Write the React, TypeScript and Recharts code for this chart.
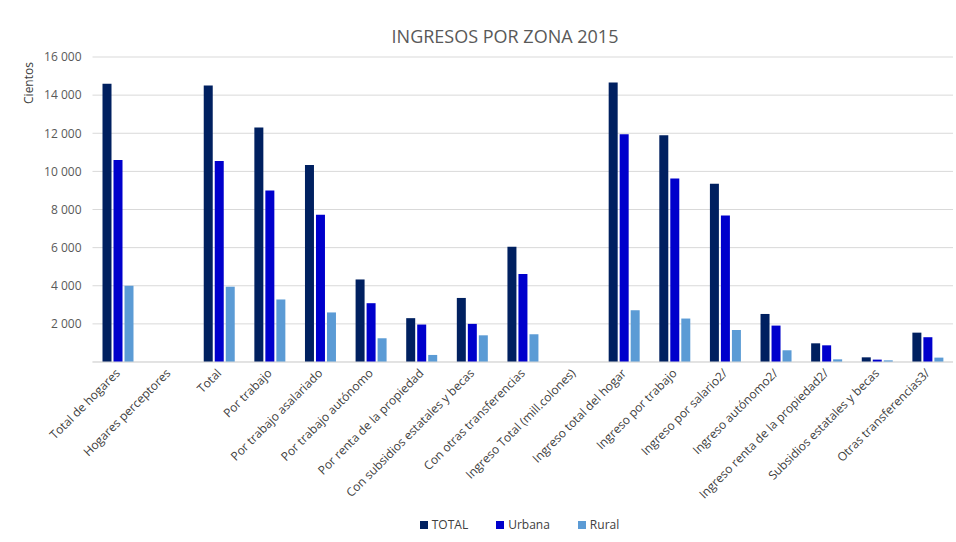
import React from 'react';
import { BarChart, Bar, XAxis, YAxis, CartesianGrid, Legend } from 'recharts';

const categories = [
  'Total de hogares',
  'Hogares perceptores',
  'Total',
  'Por trabajo',
  'Por trabajo asalariado',
  'Por trabajo autónomo',
  'Por renta de la propiedad',
  'Con subsidios estatales y becas',
  'Con otras transferencias',
  'Ingreso Total (mill.colones)',
  'Ingreso total del hogar',
  'Ingreso por trabajo',
  'Ingreso por salario2/',
  'Ingreso autónomo2/',
  'Ingreso renta de la propiedad2/',
  'Subsidios estatales y becas',
  'Otras transferencias3/',
];

const totalValues = [14600, null, 14500, 12300, 10330, 4330, 2300, 3360, 6040, null, 14660, 11900, 9350, 2520, 980, 245, 1540];
const urbanaValues = [10600, null, 10550, 9000, 7725, 3085, 1965, 2000, 4610, null, 11950, 9620, 7690, 1910, 875, 125, 1300];
const ruralValues = [4000, null, 3950, 3280, 2600, 1245, 370, 1400, 1455, null, 2715, 2280, 1680, 615, 140, 87, 230];

const yTicks = [0, 2000, 4000, 6000, 8000, 10000, 12000, 14000, 16000];

const seriesNames = ['TOTAL', 'Urbana', 'Rural'];
const seriesColors = ['#002060', '#0000CC', '#5B9BD5'];

const data = categories.map((c, i) => ({
  name: c,
  TOTAL: totalValues[i],
  Urbana: urbanaValues[i],
  Rural: ruralValues[i],
}));

const FONT = '"Open Sans", sans-serif';

const fmt = (v: number) => (v === 0 ? '' : v.toLocaleString('en-US').replace(/,/g, ' '));

const XTick = (props: any) => {
  const { x, y, payload } = props;
  const tx = x + 3;
  const ty = y + 4;
  return (
    <text
      x={tx}
      y={ty}
      transform={`rotate(-45, ${tx}, ${ty})`}
      textAnchor="end"
      fill="#404040"
      fontSize={12}
      fontFamily={FONT}
    >
      {payload.value}
    </text>
  );
};

const LegendContent = () => (
  <div
    style={{
      display: 'flex',
      justifyContent: 'center',
      fontFamily: FONT,
      fontSize: 12,
      color: '#404040',
      paddingLeft: 86,
      paddingTop: 9,
    }}
  >
    {seriesNames.map((n, i) => (
      <div key={n} style={{ display: 'flex', alignItems: 'center', marginRight: i < 2 ? 28 : 0 }}>
        <span style={{ width: 8, height: 8, background: seriesColors[i], display: 'inline-block', marginRight: 4 }} />
        <span>{n}</span>
      </div>
    ))}
  </div>
);

export default function App() {
  return (
    <div style={{ position: 'absolute', left: 0, top: 0, width: 956, height: 542, background: '#fff' }}>
      <div
        style={{
          position: 'absolute',
          left: 0,
          width: 1010,
          top: 24,
          textAlign: 'center',
          fontFamily: FONT,
          fontSize: 18,
          color: '#595959',
        }}
      >
        INGRESOS POR ZONA 2015
      </div>
      <BarChart
        width={956}
        height={542}
        data={data}
        margin={{ top: 57, right: 3, bottom: 0, left: 0 }}
        barSize={9}
        barGap={2}
      >
        <CartesianGrid vertical={false} stroke="#d9d9d9" />
        <XAxis
          dataKey="name"
          interval={0}
          tick={<XTick />}
          tickLine={false}
          axisLine={{ stroke: '#d9d9d9' }}
          height={145}
        />
        <YAxis
          domain={[0, 16000]}
          ticks={yTicks}
          tickFormatter={fmt}
          width={92.5}
          axisLine={false}
          tickLine={false}
          tickSize={0}
          tickMargin={11}
          tick={{ fill: '#595959', fontSize: 12, fontFamily: FONT }}
          label={{
            content: () => (
              <text
                x={33}
                y={83}
                transform="rotate(-90, 33, 83)"
                textAnchor="middle"
                fill="#404040"
                fontSize={12}
                fontFamily={FONT}
              >
                Cientos
              </text>
            ),
          }}
        />
        <Legend verticalAlign="bottom" height={35} content={<LegendContent />} />
        {seriesNames.map((n, i) => (
          <Bar key={n} dataKey={n} fill={seriesColors[i]} isAnimationActive={false} />
        ))}
      </BarChart>
    </div>
  );
}
